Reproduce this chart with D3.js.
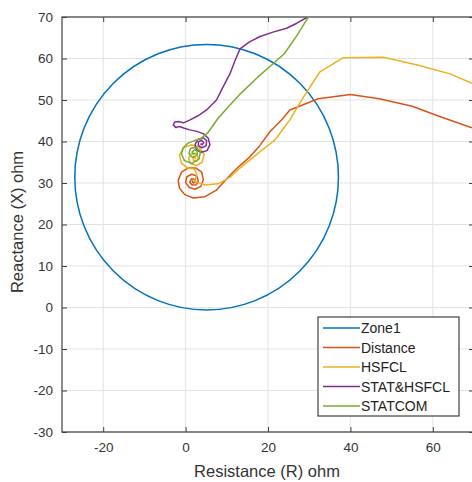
<!DOCTYPE html>
<html>
<head>
<meta charset="utf-8">
<script src="https://cdn.jsdelivr.net/npm/d3@7"></script>
<style>
  body { margin: 0; background: #fff; }
  text { font-family: "Liberation Sans", Arial, sans-serif; }
</style>
</head>
<body>
<div id="chart"></div>
<script>
// axis ticks
const xTicks = [-20, 0, 20, 40, 60];
const yTicks = [-30, -20, -10, 0, 10, 20, 30, 40, 50, 60, 70];

// Zone1 mho circle: centre (R, X) and radius in ohm
const zoneCenter = [5.1, 31.4];
const zoneRadius = 32;

// impedance trajectories, [R, X] in ohm
const distance = [[69.5,43.3],[62,45.9],[55,48.5],[47,50.3],[40,51.3],[32.2,50.3],[25.3,47.6],[23.3,45.2],[20.5,42.4],[18,39],[15.6,36.3],[13.2,34.2],[11.6,32.7],[9.5,30.5],[7.5,28.3],[4.7,26.7],[1.9,26.4],[-0.2,27.2],[-1.5,28.8],[-1.8,30.7],[-1.0,32.6],[0.6,33.6],[2.5,33.6],[3.9,32.6],[4.3,30.8],[3.7,29.2],[2.3,28.5],[0.9,28.9],[0.0,30.1],[0.3,31.5],[1.5,32.1],[2.7,31.7],[3.1,30.5],[2.6,29.6],[1.6,29.5],[1.0,30.2],[1.4,31.0],[2.2,30.9],[2.4,30.3],[1.9,30.0],[1.6,30.4],[1.9,30.6]];
const hsfcl = [[69.5,54],[64.2,56.3],[56,58.5],[48,60.3],[38.3,60.2],[32.6,56.8],[28.5,50.5],[25.3,45.2],[22.9,42],[21.7,40.4],[18,37.5],[13.2,33.6],[10.8,31.4],[7.9,29.8],[4.7,29.5],[2.2,30.4],[2.7,32.0],[2.2,33.3],[0.5,33.6],[-1.0,34.8],[-1.5,36.6],[-0.6,38.4],[1.3,39.2],[3.3,38.6],[4.5,36.9],[4.0,35.0],[2.6,34.2],[1.2,34.7],[0.7,36.0],[1.4,37.1],[2.6,37.1],[3.1,36.1],[2.7,35.3],[1.9,35.4],[1.8,36.1],[2.3,36.2],[2.4,35.7]];
const statHsfcl = [[29.6,70],[27,68.5],[24.5,67.3],[21,66.3],[18.1,65.3],[15.5,64],[13.2,62.3],[12,59.5],[10.8,56.4],[8.7,52.4],[7.5,50],[5.1,47.6],[3.0,46.2],[1.1,45.2],[-0.5,44.5],[-1.8,44.8],[-2.6,44.7],[-3.0,44.0],[-2.4,43.4],[-1.4,43.6],[-0.3,43.2],[1.0,42.8],[2.5,42.5],[4.3,41.9],[5.5,40.8],[5.9,39.2],[5.2,37.8],[3.8,37.4],[2.6,38.0],[2.3,39.3],[3.0,40.5],[4.3,40.9],[5.1,40.2],[5.0,39.0],[4.0,38.5],[3.1,39.0],[3.1,39.9],[3.9,40.3],[4.4,39.7],[4.0,39.2],[3.6,39.5]];
const statcom = [[29.8,70],[27,65.5],[24,61.2],[21.3,58.8],[17.5,55.5],[13.4,51.6],[10.5,48.5],[7.9,45.6],[5.3,42],[3.8,40.8],[2.2,40.2],[0.6,39.6],[-0.6,38.5],[-1.0,37.0],[-0.3,35.4],[1.6,34.7],[3.3,35.8],[3.6,37.6],[2.6,38.6],[1.2,38.3],[0.8,37.1],[1.6,36.2],[2.7,36.6],[2.9,37.6],[2.2,38.0],[1.6,37.5],[1.9,36.9],[2.4,37.2]];

const seriesNames = ["Zone1", "Distance", "HSFCL", "STAT&HSFCL", "STATCOM"];
const colors = ["#0072BD", "#D95319", "#EDB120", "#7E2F8E", "#77AC30"];

const width = 472, height = 482;
const plot = { left: 62, right: 474, top: 17, bottom: 432 };

const svg = d3.select("#chart").append("svg")
    .attr("width", width)
    .attr("height", height);

const x = d3.scaleLinear().domain([-30, 70]).range([plot.left, plot.right]);
const y = d3.scaleLinear().domain([-30, 70]).range([plot.bottom, plot.top]);

svg.append("defs").append("clipPath").attr("id", "clip")
    .append("rect")
    .attr("x", plot.left).attr("y", plot.top)
    .attr("width", plot.right - plot.left)
    .attr("height", plot.bottom - plot.top);

// grid
svg.append("g").selectAll("line").data(xTicks).join("line")
    .attr("x1", d => x(d)).attr("x2", d => x(d))
    .attr("y1", plot.top).attr("y2", plot.bottom)
    .attr("stroke", "#e3e3e3").attr("stroke-width", 1);
svg.append("g").selectAll("line").data(yTicks).join("line")
    .attr("y1", d => y(d)).attr("y2", d => y(d))
    .attr("x1", plot.left).attr("x2", plot.right)
    .attr("stroke", "#e3e3e3").attr("stroke-width", 1);

// axes (ticks pointing inward, box all round); plain hyphen for negatives
const tickLen = 5;
const axisColor = "#404040";
const fmt = d => String(d);
svg.append("g")
    .attr("transform", `translate(0,${plot.bottom})`)
    .call(d3.axisBottom(x).tickValues(xTicks).tickSize(-tickLen).tickPadding(10).tickFormat(fmt))
    .call(g => g.select(".domain").remove());
svg.append("g")
    .attr("transform", `translate(0,${plot.top})`)
    .call(d3.axisTop(x).tickValues(xTicks).tickSize(-tickLen).tickFormat(""))
    .call(g => g.select(".domain").remove());
svg.append("g")
    .attr("transform", `translate(${plot.left},0)`)
    .call(d3.axisLeft(y).tickValues(yTicks).tickSize(-tickLen).tickPadding(9).tickFormat(fmt))
    .call(g => g.select(".domain").remove());
svg.append("g")
    .attr("transform", `translate(${plot.right},0)`)
    .call(d3.axisRight(y).tickValues(yTicks).tickSize(-tickLen).tickFormat(""))
    .call(g => g.select(".domain").remove());

svg.selectAll(".tick line").attr("stroke", axisColor);
svg.selectAll(".tick text")
    .attr("fill", "#333")
    .style("font-size", "13.5px")
    .style("font-family", "'Liberation Sans', Arial, sans-serif");

svg.append("rect")
    .attr("x", plot.left).attr("y", plot.top)
    .attr("width", plot.right - plot.left)
    .attr("height", plot.bottom - plot.top)
    .attr("fill", "none")
    .attr("stroke", axisColor)
    .attr("stroke-width", 1.2);

// data
const lines = svg.append("g").attr("clip-path", "url(#clip)");

lines.append("ellipse")
    .attr("cx", x(zoneCenter[0]))
    .attr("cy", y(zoneCenter[1]))
    .attr("rx", x(zoneRadius) - x(0))
    .attr("ry", y(0) - y(zoneRadius))
    .attr("fill", "none")
    .attr("stroke", colors[0])
    .attr("stroke-width", 1.5);

const line = d3.line().x(d => x(d[0])).y(d => y(d[1]));
[distance, hsfcl, statHsfcl, statcom].forEach((s, i) => {
    lines.append("path")
        .datum(s)
        .attr("d", line)
        .attr("fill", "none")
        .attr("stroke", colors[i + 1])
        .attr("stroke-width", 1.5)
        .attr("stroke-linejoin", "round");
});

// axis labels
svg.append("text")
    .attr("x", 267).attr("y", 477)
    .attr("text-anchor", "middle")
    .attr("fill", "#333")
    .style("font-size", "16.5px")
    .text("Resistance (R) ohm");
svg.append("text")
    .attr("transform", "translate(23,222) rotate(-90)")
    .attr("text-anchor", "middle")
    .attr("fill", "#333")
    .style("font-size", "16.5px")
    .text("Reactance (X) ohm");

// legend
const legend = svg.append("g");
legend.append("rect")
    .attr("x", 318).attr("y", 317)
    .attr("width", 141).attr("height", 99)
    .attr("fill", "#fff")
    .attr("stroke", axisColor)
    .attr("stroke-width", 1.2);
const item = legend.selectAll("g").data(seriesNames).join("g")
    .attr("transform", (d, i) => `translate(0,${328 + i * 19.5})`);
item.append("line")
    .attr("x1", 323).attr("x2", 360)
    .attr("stroke", (d, i) => colors[i])
    .attr("stroke-width", 1.5);
item.append("text")
    .attr("x", 361).attr("y", 5)
    .attr("fill", "#222")
    .style("font-size", "14px")
    .text(d => d);
</script>
</body>
</html>
